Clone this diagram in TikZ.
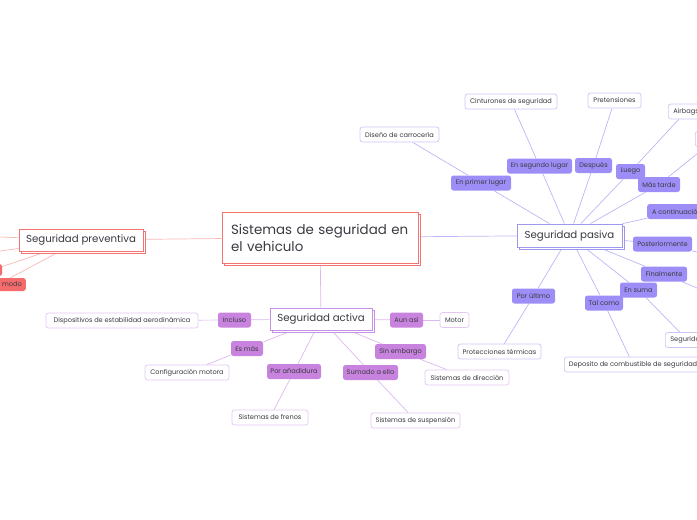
\documentclass[tikz,border=0pt]{standalone}
\usepackage{fontspec}
\setmainfont{Poppins}
\usetikzlibrary{shadows,backgrounds}
\definecolor{txt}{HTML}{3A3A42}
\definecolor{redB}{HTML}{F2736F}
\definecolor{redL}{HTML}{F8B8B4}
\definecolor{redF}{HTML}{F46B6B}
\definecolor{purB}{HTML}{C690E4}
\definecolor{purF}{HTML}{C883DE}
\definecolor{purLeaf}{HTML}{E3C8F2}
\definecolor{purL}{HTML}{DDB8EF}
\definecolor{bluB}{HTML}{9E97EE}
\definecolor{bluF}{HTML}{9C8EF6}
\definecolor{bluLeaf}{HTML}{CBC6F7}
\definecolor{bluL}{HTML}{BDB6F6}
\tikzset{
  every node/.style={text=txt, inner sep=0pt},
  smallfont/.style={font=\fontsize{6.6}{8}\selectfont},
  bigbox/.style={draw=#1, fill=white, line width=0.9pt, minimum height=22pt,
     font=\fontsize{10.2}{12}\selectfont,
     copy shadow={shadow xshift=2.5pt, shadow yshift=-2.5pt, draw=#1, fill=white, line width=0.9pt}},
  leaf/.style={draw=#1, fill=white, line width=0.7pt, rounded corners=2.5pt, minimum height=15pt, smallfont},
  lab/.style={fill=#1, rounded corners=2.5pt, minimum height=15pt, smallfont},
  lnR/.style={draw=redL, line width=0.7pt},
  lnP/.style={draw=purL, line width=0.7pt},
  lnB/.style={draw=bluL, line width=0.7pt},
}
\begin{document}
\begin{tikzpicture}[x=1pt, y=-1pt]
\useasboundingbox (0,0) rectangle (697,520);
\clip (0,0) rectangle (697,520);

% central
\node[bigbox=redB, minimum width=196pt, minimum height=51pt, text width=178pt, align=left,
      font=\fontsize{13.4}{17}\selectfont] (title) at (320,237.5) {Sistemas de seguridad en\\el vehiculo};

% preventiva
\node[bigbox=redB, minimum width=124pt] (prev) at (81,240) {Seguridad preventiva};
\coordinate (pl1) at (0,237);
\coordinate (pl2) at (0,251);
\node[fill=redF, rounded corners=2.5pt, minimum width=20pt, minimum height=12pt] (prevr) at (-8,270) {};
\node[lab=redF, minimum width=56pt, minimum height=13pt, anchor=east] (prevm) at (26,284.5) {\hspace*{22pt}a modo};

% activa
\node[bigbox=purB, minimum width=102pt] (act) at (321,319) {Seguridad activa};
\node[lab=purF, minimum width=33pt] (incl) at (234.5,320) {Incluso};
\node[lab=purF, minimum width=32pt] (esmas) at (247,348.5) {Es más};
\node[lab=purF, minimum width=54pt] (poran) at (294,371.5) {Por añadidura};
\node[lab=purF, minimum width=55pt] (sumado) at (370.5,372.5) {Sumado a ello};
\node[lab=purF, minimum width=51pt] (sinemb) at (400.5,351.5) {Sin embargo};
\node[lab=purF, minimum width=33pt] (aunasi) at (406.5,320) {Aun así};
\node[leaf=purLeaf, minimum width=152pt] (disp) at (122,320.5) {Dispositivos de estabilidad aerodinámica};
\node[leaf=purLeaf, minimum width=84pt] (conf) at (187,372.5) {Configuración motora};
\node[leaf=purLeaf, minimum width=76pt] (fren) at (270,417.5) {Sistemas de frenos};
\node[leaf=purLeaf, minimum width=89pt] (susp) at (415.5,420.5) {Sistemas de suspensión};
\node[leaf=purLeaf, minimum width=84pt] (dir) at (467,377.5) {Sistemas de dirección};
\node[leaf=purLeaf, minimum width=29pt] (mot) at (454.5,320) {Motor};

% pasiva
\node[bigbox=bluB, minimum width=105pt, minimum height=23pt] (pas) at (569.5,235.5) {Seguridad pasiva};
\node[lab=bluF, minimum width=60pt] (prim) at (481,183) {En primer lugar};
\node[lab=bluF, minimum width=65pt] (segl) at (539.5,166) {En segundo lugar};
\node[lab=bluF, minimum width=37pt] (desp) at (593.5,165.5) {Después};
\node[lab=bluF, minimum width=29pt] (luego) at (630.5,171.5) {Luego};
\node[lab=bluF, minimum width=42pt] (mast) at (659,184.5) {Más tarde};
\node[lab=bluF, inner xsep=5pt, anchor=west] (acont) at (647,211.5) {A continuación};
\node[lab=bluF, minimum width=59pt] (poster) at (662.5,244) {Posteriormente};
\node[lab=bluF, minimum width=46pt] (final) at (664,274) {Finalmente};
\node[lab=bluF, minimum width=37pt] (ensuma) at (638.5,290) {En suma};
\node[lab=bluF, minimum width=38pt] (talcomo) at (604,303) {Tal como};
\node[lab=bluF, minimum width=43pt] (porult) at (533.5,296) {Por último};
\node[leaf=bluLeaf, minimum width=79pt] (dis) at (399.5,134.5) {Diseño de carrocería};
\node[leaf=bluLeaf, minimum width=92pt] (cint) at (511,101.5) {Cinturones de seguridad};
\node[leaf=bluLeaf, minimum width=53pt] (pret) at (614.5,100.5) {Pretensiones};
\node[leaf=bluLeaf, inner xsep=5pt, anchor=west] (airb) at (668,111.5) {Airbags};
\node[leaf=bluLeaf, minimum width=40pt, anchor=west] (mtleaf) at (695,139) {};
\node[leaf=bluLeaf, inner xsep=5pt, anchor=west] (segu) at (665,340) {Seguridad};
\node[leaf=bluLeaf, inner xsep=4.5pt, anchor=west] (depo) at (564,364.5) {Deposito de combustible de seguridad};
\node[leaf=bluLeaf, minimum width=83pt] (prot) at (499.5,351.5) {Protecciones térmicas};
\coordinate (posR) at (697,252);
\coordinate (finR) at (697,288);

\begin{pgfonlayer}{background}
  \draw[lnR] (title) -- (prev);
  \draw[lnR] (prev) -- (pl1);
  \draw[lnR] (prev) -- (pl2);
  \draw[lnR] (prev) -- (prevr);
  \draw[lnR] (prev) -- (prevm);
  \draw[lnP] (title) -- (act);
  \draw[lnB] (title) -- (pas);
  \foreach \a/\b in {incl/disp, esmas/conf, poran/fren, sumado/susp, sinemb/dir, aunasi/mot}{
    \draw[lnP] (act) -- (\a);
    \draw[lnP] (\a) -- (\b);
  }
  \foreach \a/\b in {prim/dis, segl/cint, desp/pret, luego/airb, mast/mtleaf, ensuma/segu, talcomo/depo, porult/prot, poster/posR, final/finR}{
    \draw[lnB] (pas) -- (\a);
    \draw[lnB] (\a) -- (\b);
  }
  \draw[lnB] (pas) -- (acont);
\end{pgfonlayer}
\end{tikzpicture}
\end{document}
